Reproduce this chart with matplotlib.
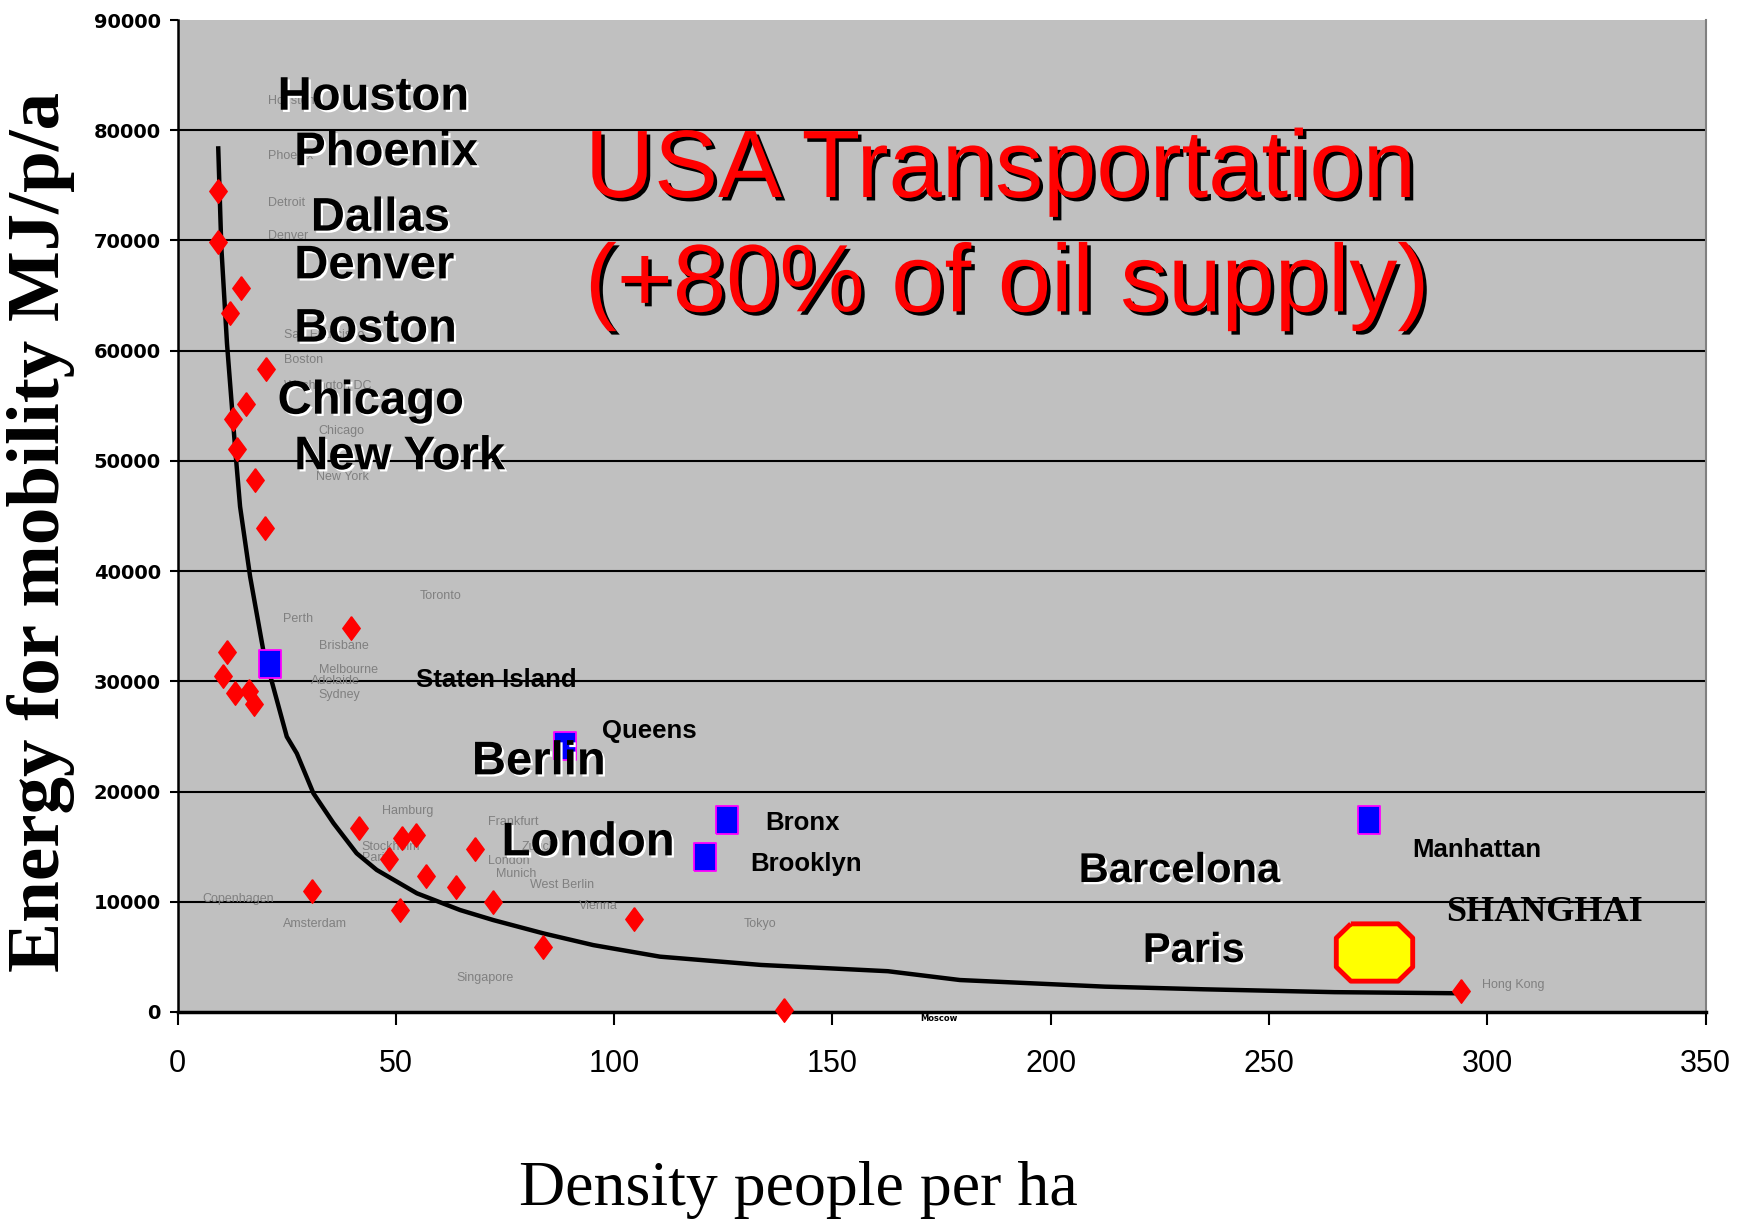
import matplotlib
matplotlib.use("Agg")
import matplotlib.pyplot as plt
import matplotlib.patheffects as pe

# ---------------- data ----------------
city_x = [9.2, 9.2, 14.5, 12.0, 20.3, 15.6, 12.6, 13.7, 17.7, 20.1, 39.7, 11.3, 10.5,
          13.2, 16.4, 17.6, 41.6, 51.3, 54.6, 48.3, 56.8, 63.8, 68.0, 30.7, 51.0, 72.3,
          83.8, 104.6, 139.0, 294.0]
city_y = [74500, 69900, 65700, 63400, 58300, 55200, 53800, 51100, 48300, 43900, 34800,
          32700, 30500, 28900, 29100, 27900, 16700, 15800, 16100, 13900, 12300, 11300,
          14800, 11000, 9250, 10000, 5900, 8400, 200, 1900]

nyc_x = [21.2, 88.7, 125.9, 120.9, 272.9]
nyc_y = [31550, 24160, 17420, 14090, 17420]

shanghai_x = [274.1]
shanghai_y = [5480]

curve_x = [9.3, 10.0, 11.3, 13.2, 14.3, 16.6, 19.6, 22.3, 25.0, 27.3, 31.1, 35.7,
           41.0, 45.6, 54.8, 64.7, 72.3, 83.8, 95.2, 110.5, 133.6, 162.7, 179.2, 212.4,
           235.0, 265.0, 293.5]
curve_y = [78350, 69420, 60660, 50990, 45850, 39500, 32850, 28910, 24980, 23460,
           19840, 17130, 14400, 12890, 10770, 9250, 8340, 7130, 6070, 5020, 4270, 3700,
           2900, 2300, 2060, 1800, 1700]

small_names = ["Houston", "Phoenix", "Detroit", "Denver", "San Francisco", "Boston",
               "Washington DC", "Chicago", "New York", "Toronto", "Perth", "Brisbane",
               "Melbourne", "Adelaide", "Sydney", "Hamburg", "Frankfurt", "Stockholm",
               "Paris", "Zurich", "London", "Munich", "West Berlin", "Vienna",
               "Copenhagen", "Amsterdam", "Singapore", "Tokyo", "Hong Kong"]
small_x = [20.8, 20.8, 20.8, 20.8, 24.4, 24.4, 24.4, 32.3, 31.8, 55.4, 24.1, 32.3,
           32.3, 30.5, 32.3, 46.8, 71.2, 42.2, 42.2, 78.8, 71.2, 73.0, 80.6, 92.0,
           5.6, 24.1, 63.8, 129.6, 298.7]
small_y = [82650, 77620, 73390, 70370, 61410, 59190, 56780, 52750, 48520, 37750, 35640,
           33220, 31010, 30000, 28790, 18220, 17210, 15000, 13990, 15000, 13690, 12480,
           11480, 9660, 10270, 7950, 3120, 7950, 2420]

big_names = ["Houston", "Phoenix", "Dallas", "Denver", "Boston", "Chicago", "New York",
             "Berlin", "London", "Barcelona", "Paris"]
big_x = [22.9, 26.7, 30.5, 26.7, 26.7, 22.9, 26.7, 67.4, 74.2, 206.4, 221.1]
big_y = [82950, 77920, 71980, 67650, 61910, 55370, 50330, 22650, 15300, 12790, 5540]

boro_names = ["Staten Island", "Queens", "Bronx", "Brooklyn", "Manhattan"]
boro_x = [54.7, 97.1, 134.7, 131.2, 282.9]
boro_y = [30100, 25470, 17110, 13390, 14700]

x_ticks = [0, 50, 100, 150, 200, 250, 300, 350]
y_ticks = [0, 10000, 20000, 30000, 40000, 50000, 60000, 70000, 80000, 90000]

title_lines = ["USA Transportation", "(+80% of oil supply)"]
title_x = 93.3
title_y = [76210, 65840]

# ---------------- figure ----------------
fig = plt.figure(figsize=(17.4, 12.28), dpi=100)
ax = fig.add_axes([0.1021, 0.1759, 0.8781, 0.8078])
ax.set_facecolor("#C0C0C0")
ax.set_xlim(0, 350)
ax.set_ylim(0, 90000)

for yv in y_ticks[1:-1]:
    ax.axhline(yv, color="black", lw=1.5, zorder=1)

ax.spines["top"].set_visible(False)
ax.spines["right"].set_color("#808080")
ax.spines["right"].set_linewidth(1.5)
ax.spines["left"].set_linewidth(1.8)
ax.spines["bottom"].set_linewidth(2.5)

ax.set_xticks(x_ticks)
ax.set_xticklabels([str(v) for v in x_ticks])
ax.set_yticks(y_ticks)
ax.set_yticklabels([str(v) for v in y_ticks])
ax.tick_params(axis="x", direction="out", length=9, width=1.5, pad=18, labelsize=22)
ax.tick_params(axis="y", direction="out", length=6, width=1.5, pad=6, labelsize=14)
for lab in ax.get_xticklabels():
    lab.set_family("Liberation Sans")
for lab in ax.get_yticklabels():
    lab.set_family("DejaVu Sans")
    lab.set_fontweight("heavy")

fig.text(41 / 1740, 1 - 532 / 1228, "Energy for mobility MJ/p/a",
         family="Liberation Serif", fontweight="bold", fontsize=54, rotation=90,
         ha="center", va="center")
fig.text(0.459, 1 - 1190 / 1228, "Density people per ha", family="Liberation Serif",
         fontsize=46, ha="center", va="center")

# curve
ax.plot(curve_x, curve_y, color="black", lw=3.2, zorder=3)

# markers
diamond = [(0, 0.5), (0.37, 0), (0, -0.5), (-0.37, 0), (0, 0.5)]
ax.plot(city_x, city_y, ls="none", marker=diamond, ms=17, color="#FF0000",
        mec="#FF0000", zorder=4, clip_on=False)
rect = [(-0.39, -0.5), (0.39, -0.5), (0.39, 0.5), (-0.39, 0.5), (-0.39, -0.5)]
ax.plot(nyc_x, nyc_y, ls="none", marker=rect, ms=20, mfc="#0000FF", mec="#FF00FF",
        mew=1.3, zorder=4)
octagon = [(-0.31, 0.375), (0.31, 0.375), (0.5, 0.19), (0.5, -0.19), (0.31, -0.375),
           (-0.31, -0.375), (-0.5, -0.19), (-0.5, 0.19), (-0.31, 0.375)]
ax.plot(shanghai_x, shanghai_y, ls="none", marker=octagon, ms=55, mfc="#FFFF00",
        mec="#FF0000", mew=3.5, zorder=4)

# small grey labels
for n, x, y in zip(small_names, small_x, small_y):
    ax.text(x, y, n, color="#808080", fontsize=9, family="Liberation Sans",
            ha="left", va="center", zorder=2)
ax.text(170, -600, "Moscow", color="black", fontsize=6, fontweight="bold",
        ha="left", va="center", clip_on=False)

# big labels with white shadow
shadow_w = [pe.SimplePatchShadow(offset=(1.6, -1.6), shadow_rgbFace="white", alpha=1.0),
            pe.Normal()]
for n, x, y in zip(big_names, big_x, big_y):
    fs = 30 if n in ("Barcelona", "Paris") else 34
    ax.text(x, y, n, color="black", fontsize=fs, fontweight="bold",
            family="Liberation Sans", ha="left", va="center", zorder=5,
            path_effects=shadow_w)

for n, x, y in zip(boro_names, boro_x, boro_y):
    ax.text(x, y, n, color="black", fontsize=18.5, fontweight="bold",
            family="Liberation Sans", ha="left", va="center", zorder=5)

ax.text(290.5, 9060, "SHANGHAI", color="black", fontsize=26, fontweight="bold",
        family="Liberation Serif", ha="left", va="center", zorder=5)

shadow_k = [pe.SimplePatchShadow(offset=(2.5, -2.5), shadow_rgbFace="black", alpha=1.0),
            pe.Normal()]
for line, y in zip(title_lines, title_y):
    ax.text(title_x, y, line, color="#FF0000", fontsize=69,
            family="Liberation Sans", ha="left", va="center", zorder=6,
            path_effects=shadow_k)

fig.savefig("out.png", dpi=100, facecolor="white")
